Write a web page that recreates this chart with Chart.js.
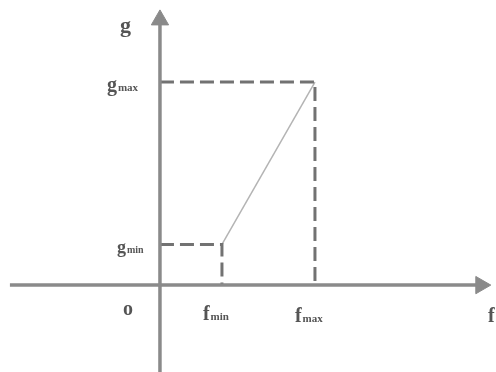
<!DOCTYPE html>
<html lang="en">
<head>
    <meta charset="UTF-8">
    <title>g(f) diagram</title>
    <script src="https://cdn.jsdelivr.net/npm/chart.js"></script>
    <style>
        html, body { margin: 0; padding: 0; background: #fff; }
        .wrap { width: 496px; height: 372px; position: relative; }
    </style>
</head>
<body>
    <div class="wrap"><canvas id="diagram"></canvas></div>

    <script>
        // key values on each axis
        const fMin = 2, fMax = 5;
        const gMin = 1, gMax = 5;

        // axis extents (data units) and arrow head positions
        const fAxis = [-4.84, 10.3];
        const gAxis = [-2.14, 6.6];
        const fArrowAt = 10.35;
        const gArrowAt = 6.53;

        const axisColor = '#8a8a8a';
        const dashColor = '#727272';
        const textColor = '#555';

        // draws the axis names and the min/max labels next to the marks
        const labelPlugin = {
            id: 'labels',
            afterDatasetsDraw(chart) {
                const ctx = chart.ctx;
                const xs = chart.scales.x, ys = chart.scales.y;
                const ox = xs.getPixelForValue(0), oy = ys.getPixelForValue(0);
                const font = 'Liberation Serif, DejaVu Serif, serif';

                function label(main, sub, x, y, size) {
                    ctx.font = 'bold ' + size + 'px ' + font;
                    ctx.fillText(main, x, y);
                    const w = ctx.measureText(main).width;
                    if (sub) {
                        ctx.font = 'bold ' + Math.round(size * 0.55) + 'px ' + font;
                        ctx.fillText(sub, x + w + 1, y);
                    }
                }

                ctx.save();
                ctx.fillStyle = textColor;
                ctx.textBaseline = 'alphabetic';
                label('g', '', ox - 40, 32, 22);
                label('g', 'max', ox - 53, ys.getPixelForValue(gMax) + 9, 20);
                label('g', 'min', ox - 43, ys.getPixelForValue(gMin) + 9, 18);
                label('o', '', ox - 37, oy + 30, 20);
                label('f', 'min', xs.getPixelForValue(fMin) - 19, oy + 35, 20);
                label('f', 'max', xs.getPixelForValue(fMax) - 20, oy + 37, 20);
                label('f', '', 488, oy + 37, 20);
                ctx.restore();
            }
        };

        new Chart(document.getElementById('diagram'), {
            type: 'scatter',
            data: {
                datasets: [
                    {   // horizontal f axis
                        data: [{ x: fAxis[0], y: 0 }, { x: fAxis[1], y: 0 }],
                        showLine: true, borderColor: axisColor, borderWidth: 3.5, pointRadius: 0
                    },
                    {   // vertical g axis
                        data: [{ x: 0, y: gAxis[0] }, { x: 0, y: gAxis[1] }],
                        showLine: true, borderColor: axisColor, borderWidth: 3.5, pointRadius: 0
                    },
                    {   // f arrow head
                        data: [{ x: fArrowAt, y: 0 }],
                        pointStyle: 'triangle', rotation: 90, pointRadius: 10,
                        backgroundColor: axisColor, borderColor: axisColor, borderWidth: 1
                    },
                    {   // g arrow head
                        data: [{ x: 0, y: gArrowAt }],
                        pointStyle: 'triangle', rotation: 0, pointRadius: 10,
                        backgroundColor: axisColor, borderColor: axisColor, borderWidth: 1
                    },
                    {   // gmax / fmax dashed guide
                        data: [{ x: 0, y: gMax }, { x: fMax, y: gMax }, { x: fMax, y: 0 }],
                        showLine: true, borderColor: dashColor, borderWidth: 3,
                        borderDash: [14, 6], pointRadius: 0
                    },
                    {   // gmin / fmin dashed guide
                        data: [{ x: 0, y: gMin }, { x: fMin, y: gMin }, { x: fMin, y: 0 }],
                        showLine: true, borderColor: dashColor, borderWidth: 3,
                        borderDash: [14, 6], pointRadius: 0
                    },
                    {   // g rising linearly from fmin to fmax
                        data: [{ x: fMin, y: gMin }, { x: fMax, y: gMax }],
                        showLine: true, borderColor: '#b4b4b4', borderWidth: 1.5, pointRadius: 0
                    }
                ]
            },
            options: {
                responsive: true,
                maintainAspectRatio: false,
                animation: false,
                layout: { padding: 0, autoPadding: false },
                plugins: { legend: { display: false }, tooltip: { enabled: false } },
                scales: {
                    x: { type: 'linear', min: -5.16, max: 10.84, display: false },
                    y: { type: 'linear', min: -2.14, max: 7.02, display: false }
                }
            },
            plugins: [labelPlugin]
        });
    </script>
</body>
</html>
